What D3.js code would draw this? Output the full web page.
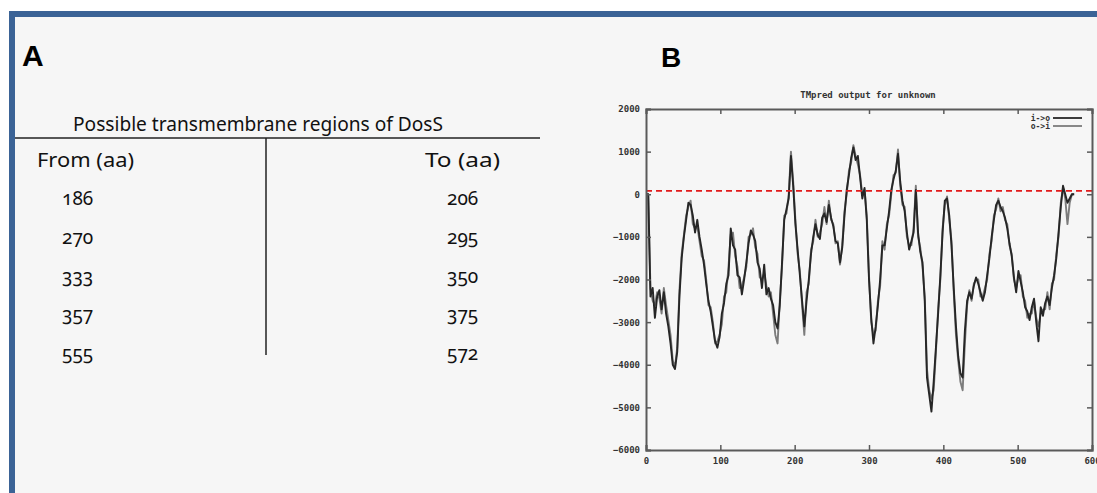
<!DOCTYPE html>
<html>
<head>
<meta charset="utf-8">
<script src="https://cdn.jsdelivr.net/npm/d3@7"></script>
<style>
  html, body { margin: 0; padding: 0; background: #ffffff; }
  svg { display: block; }
</style>
</head>
<body>
<svg id="fig" width="1097" height="493"></svg>
<script>
// ---- Panel A: predicted transmembrane segments ----
const tableTitle = "Possible transmembrane regions of DosS";
const colHeads = ["From (aa)", "To (aa)"];
const tmFrom = [186, 270, 333, 357, 555];
const tmTo = [206, 295, 350, 375, 572];

// ---- Panel B: TMpred scores ----
const plotTitle = "TMpred output for unknown";
const seriesNames = ["i->o", "o->i"];
const xTicks = [0, 100, 200, 300, 400, 500, 600];
const yTicks = [2000, 1000, 0, -1000, -2000, -3000, -4000, -5000, -6000];
const threshold = 80;
// residue positions sampled every 3 aa (0 .. 576)
const residues = d3.range(0, 577, 3);
const scoreIO = [
  0, 0, -2400, -2200, -2900, -2400, -2250, -2700, -2300, -2800,
  -3100, -3500, -4000, -4100, -3700, -2400, -1500, -1000, -600, -200,
  -250, -500, -900, -600, -1000, -1300, -1650, -2100, -2500, -2750,
  -3100, -3450, -3600, -3350, -2800, -2550, -2100, -1900, -800, -1200,
  -1300, -1900, -1950, -2350, -2000, -1600, -1150, -850, -950, -1100,
  -1600, -1750, -2200, -1650, -2350, -2200, -2450, -2600, -3000, -3150,
  -2600, -1600, -600, -350, -100, 900, 200, -700, -1300, -1900,
  -2500, -3100, -2500, -2000, -1400, -1000, -700, -950, -1050, -550,
  -450, -650, -250, -550, -750, -1100, -1150, -1600, -1250, -500,
  100, 450, 850, 1100, 800, 900, 400, -100, 150, -600,
  -2000, -2900, -3500, -3100, -2600, -2000, -1200, -1200, -800, -400,
  100, 350, 550, 950, 300, -150, -400, -900, -1300, -1100,
  -900, 100, -900, -1350, -1600, -2500, -4300, -4700, -5100, -4400,
  -3600, -2800, -1900, -900, -150, -100, -500, -1200, -2200, -3100,
  -3800, -4200, -4300, -3200, -2500, -2300, -2450, -2150, -1950, -2100,
  -2300, -2500, -2300, -1900, -1500, -1000, -600, -250, -150, -300,
  -400, -550, -800, -1150, -1450, -1950, -2300, -1800, -2050, -2300,
  -2650, -2750, -2950, -2650, -2450, -3000, -3450, -2650, -2850, -2550,
  -2400, -2600, -2200, -1900, -1500, -900, -300, 200, 0, -200,
  -100, 0, 0
];
const scoreOI = [
  0, 0, -2200, -2500, -2600, -2300, -2450, -2800, -2200, -2600,
  -2950, -3300, -3900, -4050, -3600, -2250, -1400, -950, -500, -300,
  -150, -700, -800, -750, -1100, -1450, -1550, -2000, -2600, -2650,
  -3000, -3500, -3450, -3300, -3050, -2400, -2300, -1700, -950, -900,
  -1450, -1700, -2200, -2150, -1950, -1700, -1000, -950, -800, -1250,
  -1400, -1950, -2000, -1850, -2150, -2400, -2300, -2800, -3300, -3500,
  -2500, -1700, -500, -450, 0, 1000, 300, -600, -1400, -1800,
  -2600, -3300, -2300, -2100, -1300, -1100, -600, -1000, -900, -700,
  -300, -700, -150, -600, -700, -1150, -1100, -1650, -1200, -400,
  0, 550, 750, 1150, 900, 700, 450, 0, 100, -500,
  -1900, -3000, -3300, -3200, -2500, -2150, -1100, -1300, -700, -500,
  0, 450, 500, 1050, 200, -250, -300, -1000, -1200, -1200,
  -800, 200, -1000, -1250, -1700, -2400, -4100, -4600, -4800, -4600,
  -3700, -2700, -2000, -800, -250, -50, -600, -1100, -2300, -3300,
  -3900, -4400, -4600, -3500, -2600, -2250, -2500, -2100, -2000, -2000,
  -2400, -2400, -2200, -2000, -1400, -1100, -500, -350, -100, -400,
  -300, -600, -700, -1200, -1400, -2000, -2200, -1950, -1900, -2400,
  -2500, -2900, -2800, -2800, -2500, -2900, -3100, -2800, -2700, -2700,
  -2300, -2700, -2100, -2000, -1400, -1000, -200, 150, -100, -700,
  -200, 0, 0
];

const svg = d3.select("#fig");

// page panel with blue frame on top and left
svg.append("rect").attr("x", 9).attr("y", 11).attr("width", 1088).attr("height", 482).attr("fill", "#f6f6f6");
svg.append("rect").attr("x", 9).attr("y", 11).attr("width", 1088).attr("height", 6).attr("fill", "#3b6396");
svg.append("rect").attr("x", 9).attr("y", 11).attr("width", 6).attr("height", 482).attr("fill", "#3b6396");

// panel letters
svg.append("text").attr("x", 22).attr("y", 66).text("A")
  .attr("font-family", "Liberation Sans, Arial, sans-serif").attr("font-weight", "bold")
  .attr("font-size", 30).attr("fill", "#000");
svg.append("text").attr("x", 661).attr("y", 67).text("B")
  .attr("font-family", "Liberation Sans, Arial, sans-serif").attr("font-weight", "bold")
  .attr("font-size", 28).attr("fill", "#000");

// ---- table ----
const tFont = "Noto Sans, Open Sans, sans-serif";
const table = svg.append("g").attr("font-family", tFont).attr("fill", "#111")
  .style("font-feature-settings", "'onum' 1");

table.append("text").attr("x", 73).attr("y", 131).attr("font-size", 19)
  .attr("textLength", 370).attr("lengthAdjust", "spacingAndGlyphs").text(tableTitle);
table.append("line").attr("x1", 15).attr("x2", 540).attr("y1", 138).attr("y2", 138)
  .attr("stroke", "#222").attr("stroke-width", 1.5);
table.append("line").attr("x1", 266).attr("x2", 266).attr("y1", 138).attr("y2", 355)
  .attr("stroke", "#222").attr("stroke-width", 1.5);

table.append("text").attr("x", 37).attr("y", 167).attr("font-size", 19)
  .attr("textLength", 97).attr("lengthAdjust", "spacingAndGlyphs").text(colHeads[0]);
table.append("text").attr("x", 425).attr("y", 167).attr("font-size", 19)
  .attr("textLength", 75).attr("lengthAdjust", "spacingAndGlyphs").text(colHeads[1]);

const rowY = d3.scalePoint().domain(d3.range(tmFrom.length)).range([205, 360]);
table.selectAll("text.from").data(tmFrom).join("text").attr("class", "from")
  .attr("x", 62).attr("y", (d, i) => rowY(i)).attr("font-size", 19).text(d => d);
table.selectAll("text.to").data(tmTo).join("text").attr("class", "to")
  .attr("x", 447).attr("y", (d, i) => rowY(i)).attr("font-size", 19).text(d => d);

// ---- TMpred plot ----
const x = d3.scaleLinear().domain([0, 600]).range([646, 1092]);
const y = d3.scaleLinear().domain([-6000, 2000]).range([450, 109]);
const mono = "DejaVu Sans Mono, Liberation Mono, monospace";
const axisColor = "#5a5a5a";

const plot = svg.append("g");

plot.append("text").attr("x", 868).attr("y", 98).attr("text-anchor", "middle")
  .attr("font-family", mono).attr("font-weight", "bold").attr("font-size", 9)
  .attr("fill", "#333").text(plotTitle);

// series
const line = d3.line().x(d => x(d[0])).y(d => y(d[1]));
const seriesData = [
  { name: seriesNames[1], color: "#7c7c7c", pts: residues.map((r, i) => [r, scoreOI[i]]) },
  { name: seriesNames[0], color: "#262626", pts: residues.map((r, i) => [r, scoreIO[i]]) }
];
plot.selectAll("path.series").data(seriesData).join("path").attr("class", "series")
  .attr("d", d => line(d.pts)).attr("fill", "none")
  .attr("stroke", d => d.color).attr("stroke-width", 1.9).attr("stroke-linejoin", "round");

// threshold line
plot.append("line").attr("x1", x(0)).attr("x2", x(600))
  .attr("y1", y(threshold)).attr("y2", y(threshold))
  .attr("stroke", "#e21b1b").attr("stroke-width", 1.6).attr("stroke-dasharray", "6,4");

// frame and inward ticks on all four sides
const tickLen = 5;
const fmt = d3.format("d");
const axL = plot.append("g").attr("transform", `translate(${x(0)},0)`)
  .call(d3.axisLeft(y).tickValues(yTicks).tickSize(-tickLen).tickPadding(8).tickFormat(fmt));
const axR = plot.append("g").attr("transform", `translate(${x(600)},0)`)
  .call(d3.axisRight(y).tickValues(yTicks).tickSize(-tickLen).tickFormat(""));
const axB = plot.append("g").attr("transform", `translate(0,${y(-6000)})`)
  .call(d3.axisBottom(x).tickValues(xTicks).tickSize(-tickLen).tickPadding(8).tickFormat(fmt));
const axT = plot.append("g").attr("transform", `translate(0,${y(2000)})`)
  .call(d3.axisTop(x).tickValues(xTicks).tickSize(-tickLen).tickFormat(""));
[axL, axR, axB, axT].forEach(g => {
  g.select(".domain").attr("stroke", axisColor).attr("stroke-width", 2);
  g.selectAll(".tick line").attr("stroke", axisColor).attr("stroke-width", 1.5);
  g.selectAll(".tick text").attr("font-family", mono).attr("font-weight", "bold")
    .attr("font-size", 9).attr("fill", "#333");
});
axL.selectAll(".tick text").attr("dx", 2);

// legend
const legend = plot.append("g");
seriesNames.forEach((name, i) => {
  const ly = 118 + i * 8;
  legend.append("text").attr("x", 1050).attr("y", ly + 3).attr("text-anchor", "end")
    .attr("font-family", mono).attr("font-weight", "bold").attr("font-size", 8)
    .attr("fill", "#333").text(name);
  legend.append("line").attr("x1", 1053).attr("x2", 1082).attr("y1", ly).attr("y2", ly)
    .attr("stroke", i === 0 ? "#262626" : "#7c7c7c").attr("stroke-width", 1.8);
});
</script>
</body>
</html>
